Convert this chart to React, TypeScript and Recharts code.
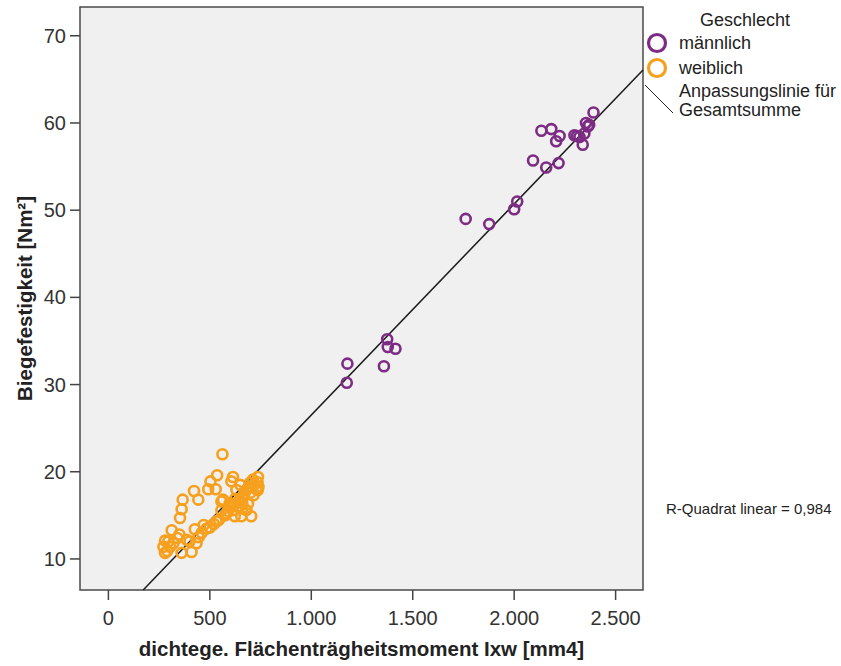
import React from "react";
import {
  ScatterChart,
  Scatter,
  XAxis,
  YAxis,
  ReferenceArea,
  ReferenceLine,
  Label,
} from "recharts";

// ---- Data ----
const maleX = [2391, 2134, 2183, 2224, 2207, 2297, 2322, 2354, 2363, 2346, 2338, 2093, 2158, 2219, 2310, 2370, 1761, 1877, 2015, 2000, 1374, 1377, 1415, 1358, 1178, 1175];
const maleY = [61.2, 59.1, 59.3, 58.5, 57.9, 58.6, 58.4, 60.0, 59.6, 58.8, 57.5, 55.7, 54.9, 55.4, 58.5, 59.8, 49.0, 48.4, 51.0, 50.1, 35.2, 34.3, 34.1, 32.1, 32.4, 30.2];

const femaleX = [562, 536, 503, 492, 529, 422, 443, 366, 361, 353, 312, 340, 279, 271, 279, 304, 361, 410, 434, 386, 426, 484, 533, 557, 557, 614, 606, 704, 737, 737, 581, 614, 647, 663, 680, 696, 712, 631, 647, 598, 565, 680, 655, 623, 590, 600, 620, 640, 660, 670, 690, 700, 720, 730, 735, 650, 625, 610, 575, 545, 520, 500, 460, 445, 400, 320, 295, 290, 350, 470, 688, 715, 740, 660];
const femaleY = [22.0, 19.6, 18.9, 18.0, 18.0, 17.8, 16.8, 16.8, 15.7, 14.7, 13.3, 12.4, 12.1, 11.4, 10.7, 11.4, 10.7, 10.8, 11.8, 12.2, 13.4, 13.5, 14.3, 15.6, 16.6, 19.4, 18.9, 14.9, 19.4, 17.9, 15.2, 15.6, 16.0, 17.1, 17.9, 18.7, 19.1, 17.9, 16.8, 16.4, 16.8, 15.6, 14.9, 14.9, 15.5, 15.9, 16.3, 16.6, 16.4, 17.5, 18.2, 17.6, 18.5, 18.0, 18.8, 18.5, 16.9, 16.2, 15.0, 14.5, 14.0, 13.6, 13.0, 12.5, 12.0, 11.8, 12.0, 10.9, 12.8, 13.9, 16.3, 17.3, 18.3, 15.8];

const xTicks = [0, 500, 1000, 1500, 2000, 2500];
const yTicks = [10, 20, 30, 40, 50, 60, 70];
const xDomain = [-140, 2635];
const yDomain = [6.44, 73.3];

// linear fit (total)
const fitIntercept = 2.29;
const fitSlope = 0.02421;
const rSquared = "0,984";

const maleData = maleX.map((x, i) => ({ x, y: maleY[i] }));
const femaleData = femaleX.map((x, i) => ({ x, y: femaleY[i] }));

const fitStartX = (yDomain[0] - fitIntercept) / fitSlope;
const fitEndX = xDomain[1];
const fitSegment = [
  { x: fitStartX, y: fitIntercept + fitSlope * fitStartX },
  { x: fitEndX, y: fitIntercept + fitSlope * fitEndX },
];

const PURPLE = "#7D2C84";
const ORANGE = "#F7A01E";
const FONT = "'Liberation Sans', Arial, sans-serif";

const fmtThousands = (v: number) =>
  String(v).replace(/\B(?=(\d{3})+(?!\d))/g, ".");

const ring = (color: string) => (props: any) => (
  <circle cx={props.cx} cy={props.cy} r={5} fill="none" stroke={color} strokeWidth={2.6} />
);

export default function App() {
  return (
    <div style={{ position: "absolute", left: 0, top: 0, width: 841, height: 666, background: "#fff", fontFamily: FONT }}>
      <ScatterChart width={841} height={666} margin={{ top: 7, right: 198, bottom: 6, left: 0 }}>
        <ReferenceArea
          x1={xDomain[0]}
          x2={xDomain[1]}
          y1={yDomain[0]}
          y2={yDomain[1]}
          fill="#F0F0F0"
          fillOpacity={1}
          stroke="#4a4a4a"
          strokeWidth={1.5}
          ifOverflow="visible"
        />
        <XAxis
          type="number"
          dataKey="x"
          domain={xDomain}
          ticks={xTicks}
          allowDataOverflow
          height={70}
          axisLine={false}
          tickLine={{ stroke: "#444", strokeWidth: 1.5 }}
          tickSize={10}
          tickMargin={11}
          tickFormatter={fmtThousands}
          tick={{ fill: "#333", fontSize: 20, fontFamily: FONT }}
        >
          <Label
            content={(p: any) => {
              const vb = p.viewBox;
              return (
                <text x={vb.x + vb.width / 2} y={vb.y + 58} textAnchor="middle" dominantBaseline="central" fontSize={20.5} fontWeight="bold" fill="#222" fontFamily={FONT}>
                  dichtege. Flächenträgheitsmoment Ixw [mm4]
                </text>
              );
            }}
          />
        </XAxis>
        <YAxis
          type="number"
          dataKey="y"
          domain={yDomain}
          ticks={yTicks}
          allowDataOverflow
          width={80}
          axisLine={false}
          tickLine={{ stroke: "#444", strokeWidth: 1.5 }}
          tickSize={10}
          tickMargin={4}
          tick={{ fill: "#333", fontSize: 20, fontFamily: FONT }}
        >
          <Label
            content={(p: any) => {
              const vb = p.viewBox;
              const cx = vb.x + 24;
              const cy = vb.y + vb.height / 2;
              return (
                <text x={cx} y={cy} transform={`rotate(-90 ${cx} ${cy})`} textAnchor="middle" dominantBaseline="central" fontSize={20.5} fontWeight="bold" fill="#222" fontFamily={FONT}>
                  Biegefestigkeit [Nm²]
                </text>
              );
            }}
          />
        </YAxis>
        <Scatter name="männlich" data={maleData} shape={ring(PURPLE)} isAnimationActive={false} />
        <Scatter name="weiblich" data={femaleData} shape={ring(ORANGE)} isAnimationActive={false} />
        <ReferenceLine segment={fitSegment} stroke="#1a1a1a" strokeWidth={1.5} ifOverflow="visible" />
      </ScatterChart>
      <svg width={841} height={666} style={{ position: "absolute", left: 0, top: 0, pointerEvents: "none" }}>
        <g fontFamily={FONT} fill="#222">
          <text x={745} y={20} textAnchor="middle" dominantBaseline="central" fontSize={18}>Geschlecht</text>
          <circle cx={657} cy={43} r={8.5} fill="none" stroke={PURPLE} strokeWidth={3.2} />
          <text x={679} y={43} dominantBaseline="central" fontSize={18}>männlich</text>
          <circle cx={657} cy={68} r={8.5} fill="none" stroke={ORANGE} strokeWidth={3.2} />
          <text x={679} y={68} dominantBaseline="central" fontSize={18}>weiblich</text>
          <line x1={645} y1={85} x2={673} y2={113} stroke="#222" strokeWidth={1} />
          <text x={679} y={91} dominantBaseline="central" fontSize={18}>Anpassungslinie für</text>
          <text x={679} y={110} dominantBaseline="central" fontSize={18}>Gesamtsumme</text>
          <text x={666} y={508} dominantBaseline="central" fontSize={15}>R-Quadrat linear = {rSquared}</text>
        </g>
      </svg>
    </div>
  );
}
